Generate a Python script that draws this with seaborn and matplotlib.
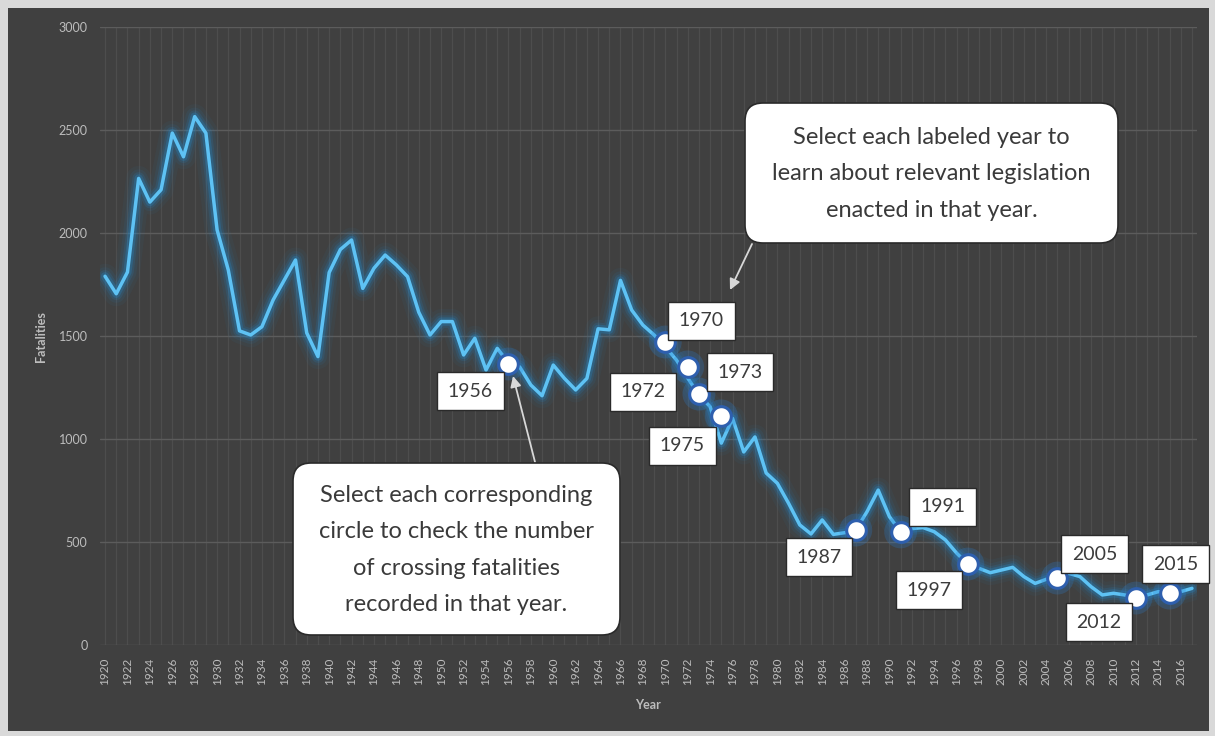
import matplotlib
matplotlib.use("Agg")
import matplotlib.pyplot as plt
import seaborn as sns
from matplotlib.patches import FancyBboxPatch, Rectangle
from matplotlib.ticker import MultipleLocator

# ---------------- data ----------------
years = list(range(1920, 2018))
fatalities = [
    1790, 1705, 1810, 2265, 2150, 2210, 2485, 2370, 2565, 2485,   # 1920-1929
    2015, 1820, 1525, 1505, 1545, 1675, 1772, 1869, 1515, 1400,   # 1930-1939
    1808, 1920, 1966, 1731, 1829, 1893, 1845, 1788, 1615, 1505,   # 1940-1949
    1570, 1570, 1408, 1489, 1335, 1440, 1370, 1350, 1262, 1210,   # 1950-1959
    1359, 1294, 1238, 1294, 1535, 1530, 1770, 1626, 1553, 1505,   # 1960-1969
    1448, 1383, 1296, 1214, 1157, 980, 1100, 937, 1010, 835,      # 1970-1979
    785, 688, 583, 539, 607, 537, 545, 558, 647, 752,             # 1980-1989
    623, 550, 565, 570, 550, 510, 446, 393, 372, 351,             # 1990-1999
    364, 377, 332, 299, 319, 324, 348, 332, 283, 243,             # 2000-2009
    251, 243, 228, 243, 259, 254, 259, 275,                       # 2010-2017
]
labeled_years = [1956, 1970, 1972, 1973, 1975, 1987, 1991, 1997, 2005, 2012, 2015]
circle_values = [1364, 1471, 1350, 1218, 1112, 558, 549, 393, 325, 228, 252]
y_ticks = [0, 500, 1000, 1500, 2000, 2500, 3000]
x_ticks = list(range(1920, 2017, 2))
x_label = "Year"
y_label = "Fatalities"
callout_left = ("Select each corresponding\ncircle to check the number\n"
                "of crossing fatalities\nrecorded in that year.")
callout_right = ("Select each labeled year to\nlearn about relevant legislation\n"
                 "enacted in that year.")

# ---------------- layout ----------------
W, H = 1215, 736
label_offsets = {  # pixel offsets of label boxes from their circles (x right, y up)
    1956: (-38, -27), 1970: (36, 21), 1972: (-45, -25), 1973: (41, 22),
    1975: (-39, -30), 1987: (-37, -27), 1991: (42, 25), 1997: (-39, -26),
    2005: (37, 24), 2012: (-37, -24), 2015: (6, 29),
}

sns.set_theme(style="dark")
plt.rcParams['font.family'] = ['Lato', 'DejaVu Sans']

bg = '#404040'
fig = plt.figure(figsize=(W / 100, H / 100), dpi=100, facecolor='#d9d9d9')
fig.add_artist(Rectangle((8, 5), 1201, 723, transform=None, facecolor=bg,
                         edgecolor='none', zorder=-5))

ax = fig.add_axes([100 / W, 91 / H, 1097 / W, 618 / H])
ax.set_facecolor(bg)

# glow
for lw, a in [(18, 0.05), (13, 0.08), (9, 0.14), (6, 0.25)]:
    sns.lineplot(x=years, y=fatalities, ax=ax, color='#1f8fd6', lw=lw, alpha=a,
                 solid_capstyle='round', solid_joinstyle='round')
sns.lineplot(x=years, y=fatalities, ax=ax, color='#5ec2f4', lw=2.5,
             solid_joinstyle='round')

# circles
sns.scatterplot(x=labeled_years, y=circle_values, ax=ax, s=560, color='#2a7fd0',
                alpha=0.25, edgecolor='none', zorder=4)
sns.scatterplot(x=labeled_years, y=circle_values, ax=ax, s=200, color='white',
                edgecolor='#2e5fae', linewidth=2.2, zorder=5)

for yr, v in zip(labeled_years, circle_values):
    dx, dy = label_offsets[yr]
    ax.annotate(str(yr), xy=(yr, v), xytext=(dx, dy), textcoords='offset pixels',
                ha='center', va='center', fontsize=14, color='#3c3c3c', zorder=6,
                bbox=dict(boxstyle='square,pad=0.55', fc='white', ec='#2a2a2a', lw=1))

ax.set_xlim(1919.55, 2017.45)
ax.set_ylim(0, 3000)
ax.set_yticks(y_ticks)
ax.set_xticks(x_ticks)
ax.set_xticklabels([str(t) for t in x_ticks], rotation=90)
ax.xaxis.set_minor_locator(MultipleLocator(1))
ax.grid(True, axis='y', which='major', color='#5c5c5c', lw=1)
ax.grid(True, axis='x', which='both', color='#4d4d4d', lw=0.9)
ax.tick_params(axis='both', which='both', length=0, colors='#bdbdbd')
ax.tick_params(axis='y', labelsize=9, pad=9)
ax.tick_params(axis='x', labelsize=8.5, pad=9)
for s in ax.spines.values():
    s.set_visible(False)
ax.set_xlabel(x_label, color='#bdbdbd', fontsize=9, fontweight='bold')
ax.set_ylabel(y_label, color='#bdbdbd', fontsize=9, fontweight='bold')
ax.xaxis.set_label_coords((648 - 100) / 1097, -(699 - 645) / 618)
ax.yaxis.set_label_coords(-(100 - 47) / 1097, (645 - 337) / 618)

# callouts
def callout(x0, y0, x1, y1, text, fs):
    fig.add_artist(FancyBboxPatch((x0, H - y1), x1 - x0, y1 - y0, transform=None,
                                  boxstyle='round,pad=0,rounding_size=18',
                                  facecolor='white', edgecolor='#2a2a2a', lw=1.2, zorder=10))
    fig.text((x0 + x1) / 2 / W, 1 - ((y0 + y1) / 2 + 1) / H, text, ha='center', va='center',
             fontsize=fs, color='#3a3a3a', linespacing=1.9, zorder=11)

callout(293, 463, 620, 635, callout_left, 17)
callout(745, 103, 1118, 243, callout_right, 17)

for (x0, y0), (x1, y1) in [((535, 462), (513, 376)), ((752, 244), (730, 290))]:
    ax.annotate('', xy=(x1, H - y1), xycoords='figure pixels',
                xytext=(x0, H - y0), textcoords='figure pixels', annotation_clip=False,
                arrowprops=dict(arrowstyle='-|>', color='#d8d8d8', lw=1.3,
                                mutation_scale=16, shrinkA=0, shrinkB=0), zorder=9)

fig.savefig('out.png', dpi=100, facecolor=fig.get_facecolor())
